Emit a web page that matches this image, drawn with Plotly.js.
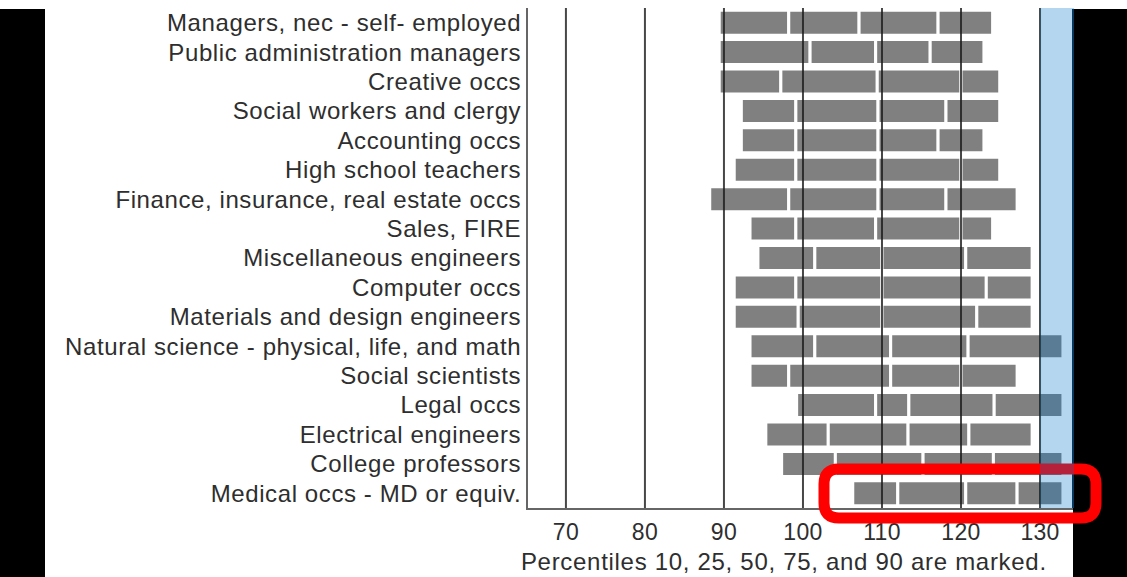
<!DOCTYPE html>
<html>
<head>
<meta charset="utf-8">
<script src="https://cdn.plot.ly/plotly-3.0.1.min.js"></script>
<style>
html,body{margin:0;padding:0;background:#fff;}
#chart{width:1127px;height:577px;}
#chart .ytick text{letter-spacing:0.6px;}
#chart .xtick text{letter-spacing:0.3px;}
#chart .annotation-text{letter-spacing:0.7px;}
</style>
</head>
<body>
<div id="chart"></div>
<script>
// ---- data ----
const categories = [
  "Managers, nec - self- employed",
  "Public administration managers",
  "Creative occs",
  "Social workers and clergy",
  "Accounting occs",
  "High school teachers",
  "Finance, insurance, real estate occs",
  "Sales, FIRE",
  "Miscellaneous engineers",
  "Computer occs",
  "Materials and design engineers",
  "Natural science - physical, life, and math",
  "Social scientists",
  "Legal occs",
  "Electrical engineers",
  "College professors",
  "Medical occs - MD or equiv."
];
const p10 = [89.4, 89.4, 89.4, 92.2, 92.2, 91.3, 88.2, 93.3, 94.3, 91.3, 91.3, 93.3, 93.3, 99.2, 95.3, 97.3, 106.3];
const p25 = [98.2, 100.9, 97.2, 99.1, 99.1, 99.1, 98.2, 99.1, 101.5, 99.1, 99.4, 101.5, 98.2, 109.2, 103.2, 104.1, 112.0];
const p50 = [107.1, 109.2, 109.4, 109.5, 109.5, 109.5, 109.5, 109.2, 110.0, 110.0, 110.0, 111.1, 111.1, 113.4, 113.3, 115.2, 120.6];
const p75 = [117.1, 116.1, 120.0, 118.1, 117.1, 120.0, 118.1, 120.0, 120.6, 123.2, 122.0, 120.9, 120.0, 124.2, 121.0, 124.1, 127.1];
const p90 = [124.0, 122.9, 124.9, 124.9, 122.9, 124.9, 127.1, 124.0, 129.0, 129.0, 129.0, 132.9, 127.1, 132.9, 129.0, 132.9, 132.9];
const tickVals = [70, 80, 90, 100, 110, 120, 130];
const tickText = ["70", "80", "90", "100", "110", "120", "130"];
const bandStart = 130;
const xTitle = "Percentiles 10, 25, 50, 75, and 90 are marked.";

// ---- geometry helpers ----
const W = 1127, H = 577;
const M = {l: 528, r: 53, t: 8, b: 69};
const PW = W - M.l - M.r, PH = H - M.t - M.b;
const px = x => (x - M.l) / PW;
const py = y => (H - M.b - y) / PH;

const FONT = "Liberation Sans, Arial, Helvetica, sans-serif";
const BAR = "#808080";

const segs = [[p10, p25], [p25, p50], [p50, p75], [p75, p90]];
const traces = segs.map(([a, b]) => ({
  type: "bar",
  orientation: "h",
  y: categories,
  base: a,
  x: a.map((v, i) => b[i] - v),
  marker: {color: BAR, line: {color: "#ffffff", width: 3}},
  hoverinfo: "skip",
  showlegend: false
}));

const shapes = [];
// vertical grid lines drawn over bars
tickVals.forEach(t => shapes.push({
  type: "line", xref: "x", yref: "paper", x0: t, x1: t, y0: 0, y1: 1,
  line: {color: "rgba(25,25,25,0.8)", width: 2}, layer: "above"
}));
// black side borders of the screenshot
shapes.push({type: "rect", xref: "paper", yref: "paper", x0: px(0), x1: px(45), y0: py(577), y1: py(9),
  fillcolor: "#000", line: {width: 0}, layer: "above"});
shapes.push({type: "rect", xref: "paper", yref: "paper", x0: px(1073), x1: px(1127), y0: py(577), y1: py(9),
  fillcolor: "#000", line: {width: 0}, layer: "above"});
shapes.push({type: "line", xref: "paper", yref: "paper", x0: px(1073), x1: px(1073), y0: py(508), y1: py(9),
  line: {color: "#0b2236", width: 2}, layer: "above"});
// red highlight rounded rectangle
(function(){
  const l = 824, R = 1096, t = 469, B = 518, r = 15;
  const P = (x, y) => px(x) + "," + py(y);
  const path = "M" + P(l + r, t) + " L" + P(R - r, t) + " Q" + P(R, t) + " " + P(R, t + r) +
    " L" + P(R, B - r) + " Q" + P(R, B) + " " + P(R - r, B) +
    " L" + P(l + r, B) + " Q" + P(l, B) + " " + P(l, B - r) +
    " L" + P(l, t + r) + " Q" + P(l, t) + " " + P(l + r, t) + " Z";
  shapes.push({type: "path", xref: "paper", yref: "paper", path: path,
    line: {color: "#ff0000", width: 11}, fillcolor: "rgba(0,0,0,0)", layer: "above"});
})();
// blue shaded band
shapes.push({type: "rect", xref: "x", yref: "paper", x0: bandStart, x1: 140, y0: 0, y1: 1,
  fillcolor: "rgba(0,115,200,0.29)", line: {width: 0}, layer: "above"});

const layout = {
  width: W, height: H,
  margin: M,
  paper_bgcolor: "#ffffff",
  plot_bgcolor: "#ffffff",
  barmode: "overlay",
  bargap: 0.15,
  font: {family: FONT, color: "#333"},
  xaxis: {
    range: [65.2, 134.3],
    tickvals: tickVals, ticktext: tickText,
    showgrid: false, zeroline: false,
    showline: true, linecolor: "#666", linewidth: 2,
    ticks: "", ticklabelstandoff: 2,
    tickfont: {family: FONT, size: 23, color: "#2e2e2e"},
    fixedrange: true
  },
  yaxis: {
    type: "category",
    autorange: "reversed",
    showgrid: false, zeroline: false,
    showline: true, linecolor: "#666", linewidth: 2,
    ticks: "", ticklabelstandoff: 0,
    tickfont: {family: FONT, size: 24, color: "#2e2e2e"},
    fixedrange: true
  },
  shapes: shapes,
  annotations: [{
    text: xTitle, xref: "paper", yref: "paper",
    x: px(784), y: py(561), xanchor: "center", yanchor: "middle",
    showarrow: false, font: {family: FONT, size: 24, color: "#2e2e2e"}
  }]
};

Plotly.newPlot("chart", traces, layout, {staticPlot: true, displayModeBar: false});
</script>
</body>
</html>
